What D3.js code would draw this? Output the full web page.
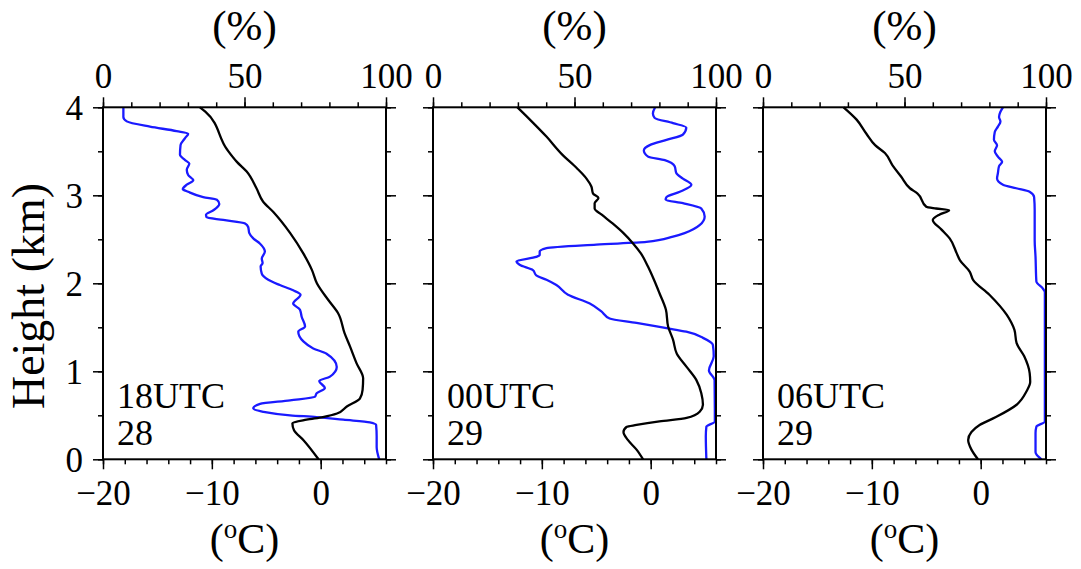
<!DOCTYPE html>
<html>
<head>
<meta charset="utf-8">
<script src="https://cdn.jsdelivr.net/npm/d3@7"></script>
<style>
  body { margin: 0; background: #fff; }
  text { font-family: "Liberation Serif", "Times New Roman", serif; fill: #000; }
</style>
</head>
<body>
<script>
// panel labels (time / day)
var panelTimes = ["18UTC", "00UTC", "06UTC"];
var panelDays = ["28", "29", "29"];

// tick values
var tempMajor = [-20, -10, 0];
var tempMinor = d3.range(-20, 7, 2);
var rhMajor = [0, 50, 100];
var rhMinor = d3.range(0, 101, 10);
var hMajor = [0, 1, 2, 3, 4];
var hMinor = d3.range(0, 4.01, 0.5);

// temperature profiles [degC, km]
var temp18 = [[-11.1,4.0],[-10.6,3.95],[-8.6,3.52],[-7.7,3.38],[-6.8,3.27],[-5.9,3.08],[-5.3,2.93],[-4.35,2.81],
  [-2.8,2.57],[-1.6,2.34],[-0.8,2.15],[-0.35,2.0],[0.7,1.81],[1.6,1.66],[2.2,1.43],[2.7,1.28],[3.3,1.09],[3.9,0.92],
  [3.85,0.79],[3.6,0.69],[2.4,0.60],[1.5,0.52],[0.2,0.48],[-1.3,0.45],[-2.6,0.41],[-2.45,0.33],[-1.6,0.22],[-0.2,0.0]];
var temp00 = [[-12.25,4.0],[-11.1,3.86],[-9.6,3.67],[-8.1,3.46],[-6.8,3.31],[-5.9,3.19],[-5.45,3.10],[-5.3,3.02],
  [-4.8,2.97],[-5.15,2.91],[-5.15,2.85],[-4.5,2.78],[-3.5,2.68],[-2.5,2.57],[-1.6,2.45],[-0.9,2.34],[-0.25,2.19],
  [0.3,2.04],[0.8,1.89],[1.4,1.70],[1.6,1.51],[2.05,1.36],[2.4,1.20],[3.3,1.05],[4.2,0.90],[4.65,0.75],[4.8,0.62],
  [4.5,0.54],[3.3,0.47],[0.8,0.43],[-1.3,0.39],[-2.2,0.37],[-2.5,0.31],[-2.1,0.22],[-1.3,0.11],[-0.7,0.0]];
var temp06 = [[-12.6,4.0],[-11.4,3.86],[-10.5,3.70],[-9.7,3.57],[-8.8,3.48],[-8.1,3.34],[-7.3,3.21],[-6.5,3.08],
  [-5.8,3.02],[-5.0,2.87],[-4.1,2.85],[-2.9,2.83],[-3.8,2.78],[-4.4,2.72],[-3.6,2.61],[-2.85,2.51],[-2.2,2.34],
  [-1.9,2.26],[-1.0,2.13],[-0.7,2.04],[0.8,1.87],[2.4,1.64],[3.1,1.47],[3.3,1.32],[4.0,1.17],[4.5,0.98],[4.55,0.88],
  [4.2,0.77],[3.3,0.62],[1.4,0.48],[-0.1,0.39],[-0.85,0.31],[-1.15,0.22],[-0.85,0.11],[-0.25,0.0]];

// relative humidity profiles [%, km]
var rh18 = [[7.2,4.0],[7.2,3.89],[8.4,3.84],[16.6,3.78],[26,3.73],[30.1,3.70],[29,3.65],[27.4,3.57],[27.2,3.46],
  [29,3.40],[30.5,3.36],[29.6,3.29],[30.1,3.23],[31.9,3.17],[29.6,3.12],[28.2,3.07],[30.1,3.04],[35.4,2.98],[40.2,2.95],
  [41.1,2.90],[39,2.83],[36.4,2.78],[36.6,2.75],[42.5,2.72],[50.2,2.68],[51.3,2.64],[51.7,2.57],[53.1,2.51],[55.5,2.45],
  [57.2,2.36],[56.1,2.28],[56.4,2.23],[55.7,2.19],[56.1,2.11],[58.4,2.04],[62.5,1.98],[67.2,1.92],[69.8,1.87],[67.2,1.77],
  [69.6,1.70],[70.2,1.62],[71.4,1.51],[69,1.45],[70.8,1.34],[74.3,1.26],[79,1.20],[82.6,1.05],[80.2,0.94],[76.4,0.89],
  [78.4,0.81],[75.5,0.75],[74.9,0.71],[66.1,0.67],[55.5,0.63],[53.1,0.58],[56.6,0.54],[66.1,0.50],[75.5,0.48],[84.9,0.45],
  [94.3,0.42],[96.5,0.39],[96.7,0.26],[96.7,0.14],[97.6,0.0]];
var rh00 = [[78.5,4.0],[77.7,3.93],[78.3,3.88],[84.8,3.82],[89.5,3.77],[88.3,3.69],[82.5,3.63],[76.6,3.57],[74.5,3.51],
  [76,3.44],[81.9,3.40],[85.4,3.33],[86,3.25],[88.3,3.19],[91.3,3.12],[87.2,3.04],[82.5,2.98],[82.2,2.95],[88.3,2.91],
  [94.8,2.85],[96,2.76],[94.2,2.66],[88.9,2.57],[84.8,2.53],[75.4,2.47],[57.7,2.44],[40.1,2.40],[37.7,2.36],[37.7,2.32],
  [36.5,2.30],[29.5,2.25],[30.6,2.21],[35.3,2.15],[36.5,2.09],[40.1,2.04],[43.6,1.98],[47.7,1.87],[55.4,1.77],[59.5,1.68],
  [62.4,1.60],[71.9,1.55],[82.5,1.49],[89.5,1.45],[95.4,1.38],[98.9,1.30],[99.2,1.17],[97.5,1.01],[99.5,0.90],[99.6,0.43],
  [96.6,0.37],[96.4,0.26],[96.6,0.0]];
var rh06 = [[84.8,4.0],[83.9,3.95],[83.4,3.89],[83.9,3.84],[83,3.78],[81.9,3.72],[81.6,3.63],[82.7,3.57],[81.9,3.50],
  [83,3.44],[84.5,3.38],[83.4,3.33],[83,3.25],[82.7,3.19],[84.8,3.12],[89.5,3.08],[94.2,3.04],[95.8,2.98],[96,2.83],
  [96,2.49],[96.3,2.30],[96.6,2.02],[98.9,1.94],[99.6,1.90],[99.6,0.43],[96.6,0.37],[96.3,0.30],[96.3,0.08],[98.4,0.0]];

var temps = [temp18, temp00, temp06];
var rhs = [rh18, rh00, rh06];

var pw = 283, ph = 352;
var left0 = 103, top0 = 107.3, step = 330;

var svg = d3.select("body").append("svg")
  .attr("width", 1081).attr("height", 569);

var xT = d3.scaleLinear().domain([-20, 6]).range([0, pw]);
var xR = d3.scaleLinear().domain([0, 100]).range([0, pw]);
var y = d3.scaleLinear().domain([0, 4]).range([ph, 0]);

function fmtTemp(d) { return d < 0 ? "\u2212" + Math.abs(d) : String(d); }

function styleAxis(g) {
  g.select(".domain").remove();
  g.selectAll("line").attr("stroke", "#000").attr("stroke-width", 1.5);
  g.selectAll("text").style("font-size", "35px").attr("fill", "#000");
}

// profiles are single-valued in height, so monotoneY avoids overshoot
var tLine = d3.line().curve(d3.curveMonotoneY)
  .x(function(d) { return xT(d[0]); }).y(function(d) { return y(d[1]); });
var rLine = d3.line().curve(d3.curveMonotoneY)
  .x(function(d) { return xR(d[0]); }).y(function(d) { return y(d[1]); });

for (var i = 0; i < 3; i++) {
  var g = svg.append("g")
    .attr("transform", "translate(" + (left0 + i * step) + "," + top0 + ")");

  // minor ticks
  g.append("g").attr("transform", "translate(0," + ph + ")")
    .call(d3.axisBottom(xT).tickValues(tempMinor).tickSize(5).tickFormat("")).call(styleAxis);
  g.append("g").call(d3.axisTop(xR).tickValues(rhMinor).tickSize(5).tickFormat("")).call(styleAxis);
  g.append("g").call(d3.axisLeft(y).tickValues(hMinor).tickSize(5).tickFormat("")).call(styleAxis);
  g.append("g").attr("transform", "translate(" + pw + ",0)")
    .call(d3.axisRight(y).tickValues(hMinor).tickSize(5).tickFormat("")).call(styleAxis);

  // major ticks + labels
  var bx = g.append("g").attr("transform", "translate(0," + ph + ")")
    .call(d3.axisBottom(xT).tickValues(tempMajor).tickSize(10).tickFormat(fmtTemp)).call(styleAxis);
  bx.selectAll("text").attr("y", 46).attr("dy", 0);

  var tx = g.append("g")
    .call(d3.axisTop(xR).tickValues(rhMajor).tickSize(10)).call(styleAxis);
  tx.selectAll("text").attr("y", -19).attr("dy", 0);

  var ly = g.append("g")
    .call(d3.axisLeft(y).tickValues(hMajor).tickSize(10).tickFormat(i === 0 ? d3.format("d") : "")).call(styleAxis);
  ly.selectAll("text").attr("x", -20).attr("dy", "0.35em");

  g.append("g").attr("transform", "translate(" + pw + ",0)")
    .call(d3.axisRight(y).tickValues(hMajor).tickSize(10).tickFormat("")).call(styleAxis);

  // profiles
  g.append("path").attr("d", rLine(rhs[i]))
    .attr("fill", "none").attr("stroke", "#1a1aff").attr("stroke-width", 2.3).attr("stroke-linejoin", "round");
  g.append("path").attr("d", tLine(temps[i]))
    .attr("fill", "none").attr("stroke", "#000").attr("stroke-width", 2.3).attr("stroke-linejoin", "round");

  // frame
  g.append("rect").attr("width", pw).attr("height", ph)
    .attr("fill", "none").attr("stroke", "#000").attr("stroke-width", 2);

  // labels
  g.append("text").attr("x", 14).attr("y", 301).style("font-size", "36px").text(panelTimes[i]);
  g.append("text").attr("x", 14).attr("y", 338).style("font-size", "36px").text(panelDays[i]);

  // axis titles
  g.append("text").attr("x", pw / 2).attr("y", 40 - top0).attr("text-anchor", "middle")
    .style("font-size", "43px").text("(%)");
  var ct = g.append("text").attr("x", pw / 2).attr("y", 553 - top0).attr("text-anchor", "middle")
    .style("font-size", "42px");
  ct.append("tspan").text("(");
  ct.append("tspan").attr("dy", -15).style("font-size", "27px").text("o");
  ct.append("tspan").attr("dy", 15).text("C)");
}

svg.append("text")
  .attr("transform", "translate(44,296) rotate(-90)")
  .attr("text-anchor", "middle")
  .style("font-size", "46px")
  .text("Height (km)");
</script>
</body>
</html>
